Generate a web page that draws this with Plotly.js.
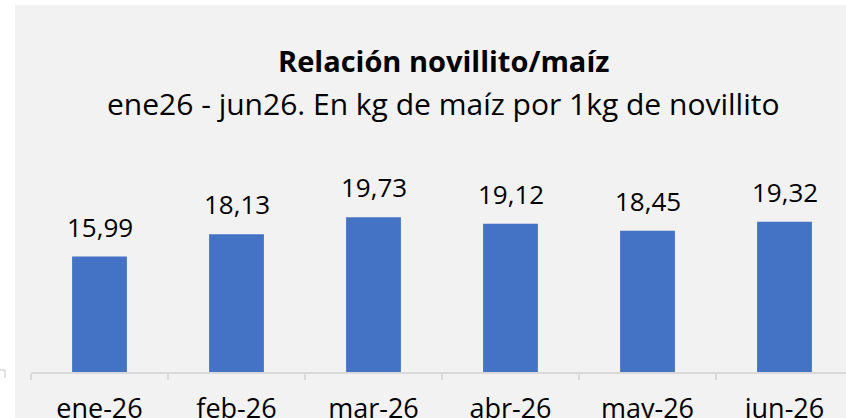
<!DOCTYPE html>
<html>
<head>
<meta charset="utf-8">
<script src="https://cdn.plot.ly/plotly-3.0.1.min.js"></script>
<style>
  html, body { margin: 0; padding: 0; background: #ffffff; }
  #chart { width: 846px; height: 418px; }
</style>
</head>
<body>
<div id="chart"></div>
<script>
// ---- Data ----
const categories = ["ene-26", "feb-26", "mar-26", "abr-26", "may-26", "jun-26"];
const values = [15.99, 18.13, 19.73, 19.12, 18.45, 19.32];
const valueLabels = ["15,99", "18,13", "19,73", "19,12", "18,45", "19,32"];
const titleText = "Relación novillito/maíz";
const subtitleText = "ene26 - jun26. En kg de maíz por 1kg de novillito";

// ---- Geometry helpers ----
const W = 846, H = 418;
const M = { l: 31, r: 0, t: 100, b: 46 };
const plotW = W - M.l - M.r, plotH = H - M.t - M.b;
const px2x = (p) => (p - M.l) / plotW;
const px2y = (p) => 1 - (p - M.t) / plotH;

const FONT = "Open Sans, Noto Sans, sans-serif";
const TXT = "#000000";
const AXIS = "#d9d9d9";

const trace = {
  type: "bar",
  x: categories,
  y: values,
  marker: { color: "#4472c4" },
  hoverinfo: "skip"
};

const labelAnns = categories.map((c, i) => ({
  x: c, y: values[i], xref: "x", yref: "y",
  text: valueLabels[i], showarrow: false,
  xanchor: "center", yanchor: "bottom", yshift: 10,
  font: { family: FONT, size: 26, color: TXT }
}));

const layout = {
  width: W, height: H,
  margin: M,
  paper_bgcolor: "#ffffff",
  plot_bgcolor: "rgba(0,0,0,0)",
  showlegend: false,
  bargap: 0.6,
  xaxis: {
    type: "category",
    range: [-0.5, -0.5 + plotW / 137],
    showline: true, linecolor: AXIS, linewidth: 1.5,
    ticks: "outside", tickson: "boundaries", ticklen: 6, tickcolor: AXIS, tickwidth: 1.5,
    ticklabelstandoff: 12,
    showgrid: false, zeroline: false,
    tickfont: { family: FONT, size: 27, color: TXT },
    fixedrange: true
  },
  yaxis: {
    range: [5, 5 + plotH / 10.5],
    visible: false, showgrid: false, zeroline: false, fixedrange: true
  },
  shapes: [
    { type: "rect", xref: "paper", yref: "paper", layer: "below",
      x0: px2x(15), x1: px2x(W + 5), y0: px2y(5), y1: px2y(H + 5),
      fillcolor: "#f2f2f2", line: { width: 0 } },
    { type: "line", xref: "paper", yref: "paper",
      x0: px2x(0), x1: px2x(5), y0: px2y(370), y1: px2y(370),
      line: { color: AXIS, width: 1.5 } },
    { type: "line", xref: "paper", yref: "paper",
      x0: px2x(5), x1: px2x(5), y0: px2y(370), y1: px2y(378),
      line: { color: AXIS, width: 1.5 } }
  ],
  annotations: [
    { xref: "paper", yref: "paper", x: px2x(443.5), y: px2y(60),
      xanchor: "center", yanchor: "middle", showarrow: false,
      text: "<b>" + titleText + "</b>",
      font: { family: FONT, size: 29, color: TXT } },
    { xref: "paper", yref: "paper", x: px2x(443.5), y: px2y(104),
      xanchor: "center", yanchor: "middle", showarrow: false,
      text: subtitleText,
      font: { family: FONT, size: 30, color: TXT } }
  ].concat(labelAnns)
};

Plotly.newPlot("chart", [trace], layout, { staticPlot: true, displayModeBar: false });
</script>
</body>
</html>
